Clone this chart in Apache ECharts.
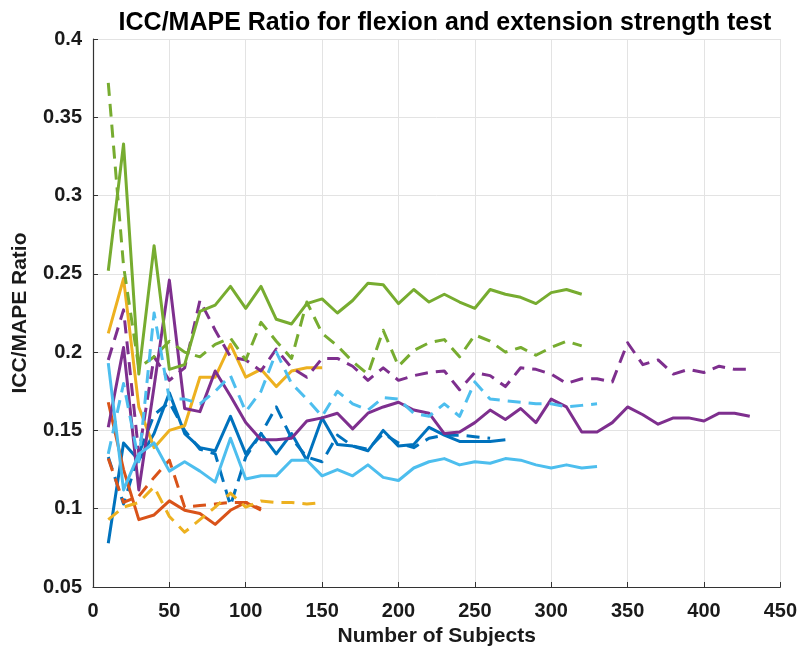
<!DOCTYPE html>
<html>
<head>
<meta charset="utf-8">
<title>ICC/MAPE Ratio</title>
<script src="https://cdn.jsdelivr.net/npm/echarts@6/dist/echarts.min.js"></script>
<style>
  html, body { margin: 0; padding: 0; background: #ffffff; }
  #chart { width: 800px; height: 652px; }
</style>
</head>
<body>
<div id="chart"></div>
<script>
// Number of subjects at each evaluation step
const subjects = [10, 20, 30, 40, 50, 60, 70, 80, 90, 100,
  110, 120, 130, 140, 150, 160, 170, 180, 190, 200,
  210, 220, 230, 240, 250, 260, 270, 280, 290, 300,
  310, 320, 330, 340, 350, 360, 370, 380, 390, 400,
  410, 420, 430];

// ICC/MAPE ratio per group (solid = flexion, dashed = extension)
const blueSolid = [0.078, 0.142, 0.131, 0.148, 0.174, 0.148, 0.139, 0.137, 0.159, 0.135,
  0.148, 0.135, 0.148, 0.131, 0.158, 0.141, 0.140, 0.137, 0.150, 0.140,
  0.141, 0.152, 0.147, 0.143, 0.143, 0.143, 0.144];
const blueDashed = [0.133, 0.103, 0.135, 0.160, 0.168, 0.150, 0.138, 0.135, 0.102, 0.133,
  0.148, 0.165, 0.145, 0.133, 0.130, 0.147, 0.140, 0.138, 0.148, 0.142,
  0.139, 0.145, 0.147, 0.147, 0.146, 0.145];
const orangeSolid = [0.168, 0.125, 0.093, 0.096, 0.105, 0.099, 0.097, 0.090, 0.099, 0.104, 0.099];
const orangeDashed = [0.132, 0.104, 0.108, 0.120, 0.131, 0.101, 0.102, 0.103, 0.104, 0.104, 0.100];
const yellowSolid = [0.212, 0.247, 0.165, 0.139, 0.150, 0.153, 0.184, 0.184, 0.205, 0.184,
  0.189, 0.178, 0.188, 0.190, 0.190];
const yellowDashed = [0.093, 0.101, 0.104, 0.114, 0.095, 0.085, 0.093, 0.101, 0.110, 0.101,
  0.105, 0.104, 0.104, 0.103, 0.104];
const purpleSolid = [0.152, 0.203, 0.112, 0.178, 0.246, 0.164, 0.162, 0.188, 0.172, 0.155,
  0.144, 0.144, 0.145, 0.156, 0.158, 0.161, 0.151, 0.161, 0.165, 0.168,
  0.163, 0.161, 0.148, 0.149, 0.155, 0.163, 0.157, 0.164, 0.155, 0.170,
  0.165, 0.149, 0.149, 0.155, 0.165, 0.160, 0.154, 0.158, 0.158, 0.156,
  0.161, 0.161, 0.159];
const purpleDashed = [0.195, 0.227, 0.135, 0.197, 0.182, 0.190, 0.233, 0.214, 0.197, 0.195,
  0.188, 0.202, 0.190, 0.184, 0.196, 0.196, 0.191, 0.182, 0.190, 0.182,
  0.185, 0.187, 0.188, 0.176, 0.187, 0.185, 0.178, 0.190, 0.189, 0.186,
  0.180, 0.183, 0.183, 0.181, 0.206, 0.192, 0.195, 0.186, 0.189, 0.187,
  0.191, 0.189, 0.189];
const greenSolid = [0.252, 0.333, 0.186, 0.268, 0.189, 0.192, 0.226, 0.230, 0.242, 0.228,
  0.242, 0.221, 0.218, 0.231, 0.234, 0.225, 0.233, 0.244, 0.243, 0.231,
  0.240, 0.232, 0.237, 0.232, 0.228, 0.240, 0.237, 0.235, 0.231, 0.238,
  0.240, 0.237];
const greenDashed = [0.372, 0.255, 0.190, 0.197, 0.207, 0.200, 0.197, 0.205, 0.209, 0.195,
  0.219, 0.207, 0.196, 0.232, 0.212, 0.204, 0.194, 0.186, 0.214, 0.191,
  0.201, 0.206, 0.208, 0.197, 0.211, 0.207, 0.200, 0.203, 0.198, 0.203,
  0.207, 0.204];
const lightBlueSolid = [0.193, 0.112, 0.135, 0.142, 0.124, 0.130, 0.124, 0.117, 0.145, 0.119,
  0.121, 0.121, 0.131, 0.131, 0.121, 0.125, 0.121, 0.128, 0.120, 0.118,
  0.126, 0.130, 0.132, 0.128, 0.130, 0.129, 0.132, 0.131, 0.128, 0.126,
  0.128, 0.126, 0.127];
const lightBlueDashed = [0.135, 0.180, 0.130, 0.225, 0.170, 0.170, 0.167, 0.175, 0.185, 0.162,
  0.175, 0.200, 0.180, 0.170, 0.159, 0.175, 0.167, 0.163, 0.171, 0.170,
  0.161, 0.159, 0.167, 0.159, 0.181, 0.170, 0.169, 0.168, 0.167, 0.167,
  0.165, 0.166, 0.167];

// Axis ticks
const xTicks = [0, 50, 100, 150, 200, 250, 300, 350, 400, 450];
const yTicks = [0.05, 0.1, 0.15, 0.2, 0.25, 0.3, 0.35, 0.4];

const COLORS = {
  blue: '#0072BD', orange: '#D95319', yellow: '#EDB120',
  purple: '#7E2F8E', green: '#77AC30', lightBlue: '#4DBEEE'
};

const groups = [
  ['blue', blueSolid, blueDashed],
  ['orange', orangeSolid, orangeDashed],
  ['yellow', yellowSolid, yellowDashed],
  ['purple', purpleSolid, purpleDashed],
  ['green', greenSolid, greenDashed],
  ['lightBlue', lightBlueSolid, lightBlueDashed]
];

function makeLine(name, values, color, dashed) {
  return {
    name: name,
    type: 'line',
    data: values.map((v, i) => [subjects[i], v]),
    showSymbol: false,
    symbol: 'none',
    smooth: false,
    lineStyle: { color: color, width: 3, type: dashed ? [13, 8] : 'solid', cap: 'butt', join: 'round' },
    emphasis: { disabled: true },
    silent: true
  };
}

const series = [];
groups.forEach(([key, solid, dashed]) => {
  series.push(makeLine(key + ' flexion', solid, COLORS[key], false));
  series.push(makeLine(key + ' extension', dashed, COLORS[key], true));
});

const FONT = "'Liberation Sans', Arial, Helvetica, sans-serif";
const TEXT = '#1a1a1a';

const chart = echarts.init(document.getElementById('chart'), null, { renderer: 'canvas' });
chart.setOption({
  animation: false,
  backgroundColor: '#ffffff',
  title: {
    text: 'ICC/MAPE Ratio for flexion and extension strength test',
    left: 440,
    top: 6,
    textAlign: 'center',
    textStyle: { fontFamily: FONT, fontWeight: 'bold', fontSize: 25, color: '#000000' }
  },
  grid: { left: 93, right: 19, top: 39, bottom: 65, containLabel: false },
  xAxis: {
    type: 'value',
    min: xTicks[0],
    max: xTicks[xTicks.length - 1],
    interval: xTicks[1] - xTicks[0],
    name: 'Number of Subjects',
    nameLocation: 'middle',
    nameGap: 38,
    nameTextStyle: { fontFamily: FONT, fontWeight: 'bold', fontSize: 21, color: TEXT },
    axisLine: { show: true, onZero: false, lineStyle: { color: '#333333', width: 1.2 } },
    axisTick: { show: true, inside: true, length: 5, lineStyle: { color: '#333333' } },
    axisLabel: { fontFamily: FONT, fontWeight: 'bold', fontSize: 20, color: TEXT, margin: 14 },
    splitLine: { show: true, lineStyle: { color: '#e3e3e3', width: 1 } }
  },
  yAxis: {
    type: 'value',
    min: yTicks[0],
    max: yTicks[yTicks.length - 1],
    interval: 0.05,
    name: 'ICC/MAPE Ratio',
    nameLocation: 'middle',
    nameGap: 62,
    nameRotate: 90,
    nameTextStyle: { fontFamily: FONT, fontWeight: 'bold', fontSize: 21, color: TEXT },
    axisLine: { show: true, onZero: false, lineStyle: { color: '#333333', width: 1.2 } },
    axisTick: { show: true, inside: true, length: 5, lineStyle: { color: '#333333' } },
    axisLabel: {
      fontFamily: FONT, fontWeight: 'bold', fontSize: 20, color: TEXT, margin: 11,
      formatter: v => String(parseFloat(v.toFixed(2)))
    },
    splitLine: { show: true, lineStyle: { color: '#e3e3e3', width: 1 } }
  },
  series: series
});
</script>
</body>
</html>
